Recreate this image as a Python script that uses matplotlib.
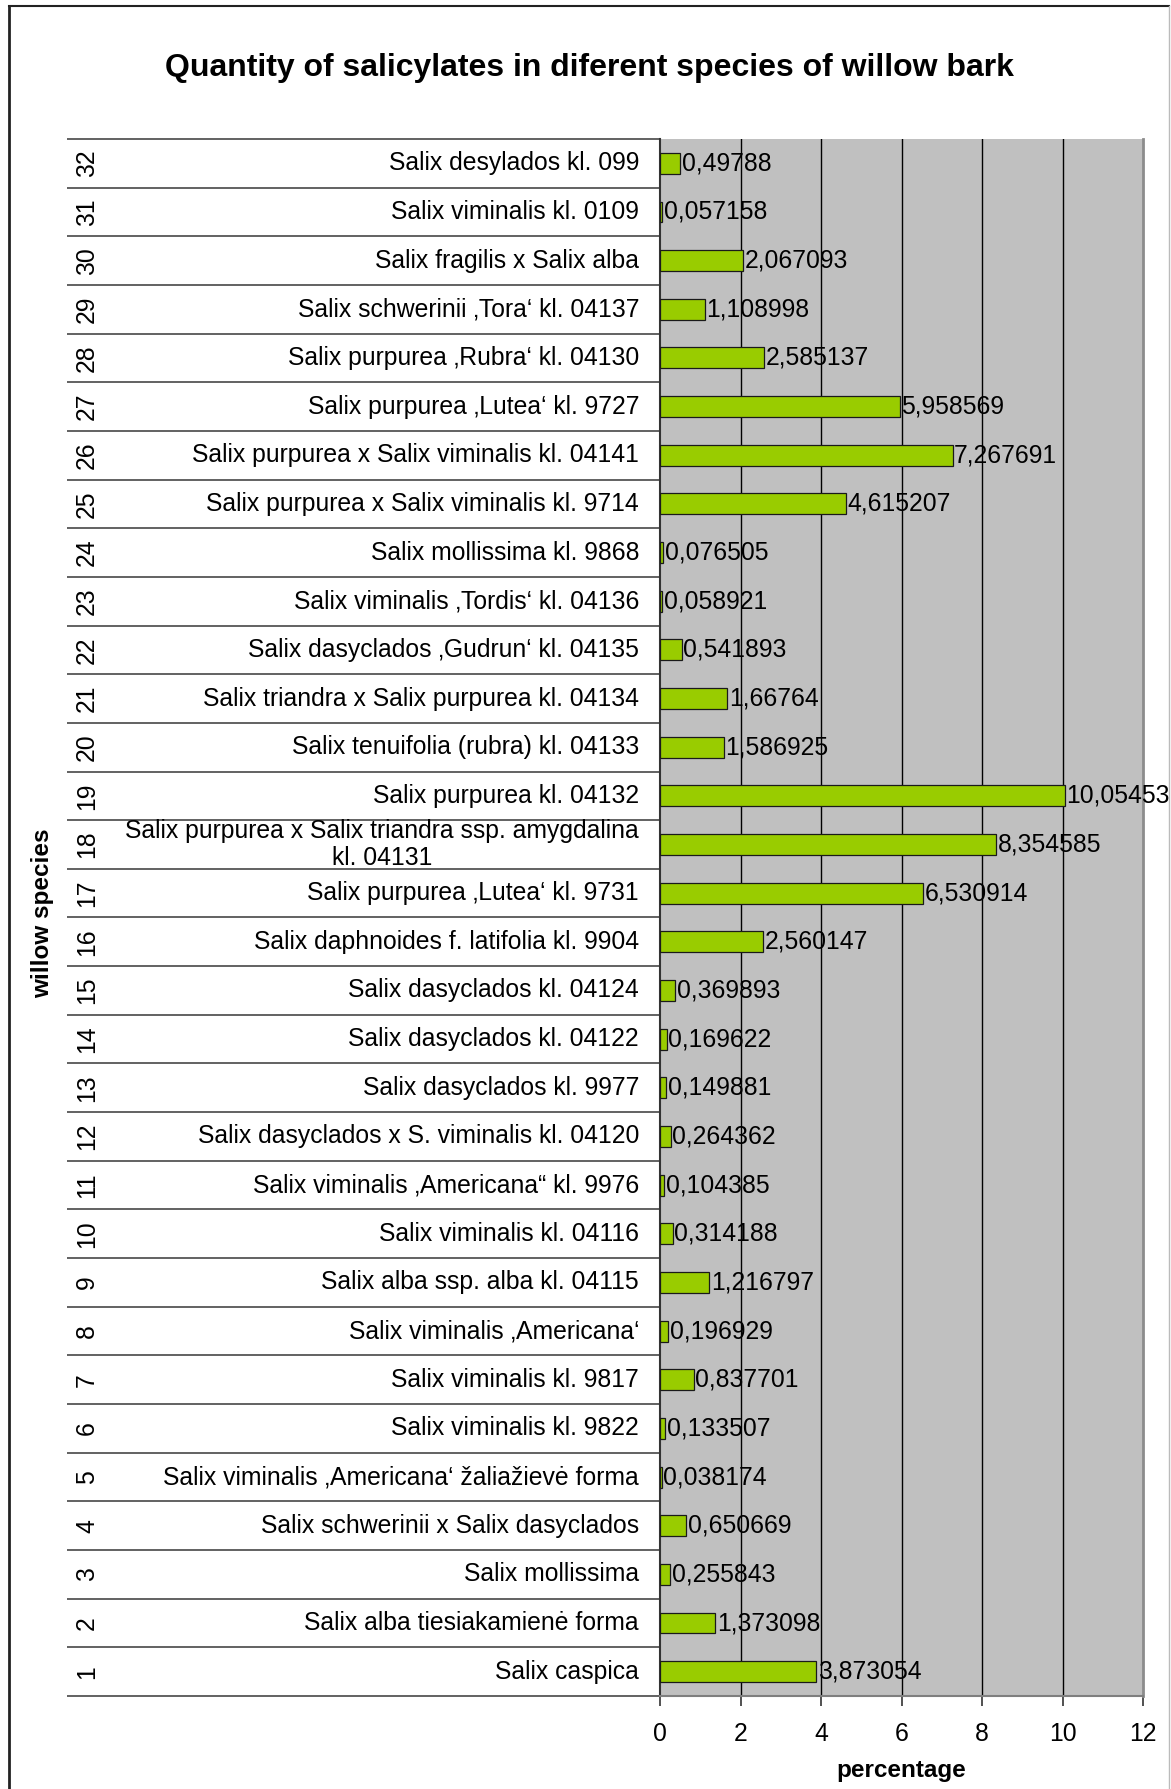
import matplotlib
matplotlib.use('Agg')
import matplotlib.pyplot as plt

plt.rcParams['font.family'] = ['Liberation Sans', 'DejaVu Sans']

# willow clones, numbered 1..32 from the bottom row up
species = [
    'Salix caspica',
    'Salix alba tiesiakamienė forma',
    'Salix mollissima',
    'Salix schwerinii x Salix dasyclados',
    'Salix viminalis \u201aAmericana\u2018 žaliažievė forma',
    'Salix viminalis kl. 9822',
    'Salix viminalis kl. 9817',
    'Salix viminalis \u201aAmericana\u2018',
    'Salix alba ssp. alba kl. 04115',
    'Salix viminalis kl. 04116',
    'Salix viminalis \u201aAmericana\u201c kl. 9976',
    'Salix dasyclados x S. viminalis kl. 04120',
    'Salix dasyclados kl. 9977',
    'Salix dasyclados kl. 04122',
    'Salix dasyclados kl. 04124',
    'Salix daphnoides f. latifolia kl. 9904',
    'Salix purpurea \u201aLutea\u2018 kl. 9731',
    'Salix purpurea x Salix triandra ssp. amygdalina\nkl. 04131',
    'Salix purpurea kl. 04132',
    'Salix tenuifolia (rubra) kl. 04133',
    'Salix triandra x Salix purpurea kl. 04134',
    'Salix dasyclados \u201aGudrun\u2018 kl. 04135',
    'Salix viminalis \u201aTordis\u2018 kl. 04136',
    'Salix mollissima kl. 9868',
    'Salix purpurea x Salix viminalis kl. 9714',
    'Salix purpurea x Salix viminalis kl. 04141',
    'Salix purpurea \u201aLutea\u2018 kl. 9727',
    'Salix purpurea \u201aRubra\u2018 kl. 04130',
    'Salix schwerinii \u201aTora\u2018 kl. 04137',
    'Salix fragilis x Salix alba',
    'Salix viminalis kl. 0109',
    'Salix desylados kl. 099',
]
numbers = list(range(1, 33))
salicylates = [
    3.873054, 1.373098, 0.255843, 0.650669, 0.038174, 0.133507, 0.837701,
    0.196929, 1.216797, 0.314188, 0.104385, 0.264362, 0.149881, 0.169622,
    0.369893, 2.560147, 6.530914, 8.354585, 10.05453, 1.586925, 1.66764,
    0.541893, 0.058921, 0.076505, 4.615207, 7.267691, 5.958569, 2.585137,
    1.108998, 2.067093, 0.057158, 0.49788,
]
xticks = [0, 2, 4, 6, 8, 10, 12]

W, H = 1171, 1789
fs = 17.8
fig = plt.figure(figsize=(W / 100, H / 100), dpi=100)

# outer frame
fig.add_artist(plt.Line2D([9 / W, 9 / W], [0, 1 - 6 / H], color='#222222', lw=2))
fig.add_artist(plt.Line2D([9 / W, 1169 / W], [1 - 6 / H, 1 - 6 / H], color='#222222', lw=1.5))
fig.add_artist(plt.Line2D([1169 / W, 1169 / W], [0, 1 - 6 / H], color='#bbbbbb', lw=1))

left, right, top, bottom = 660, 1143, 139, 1696
ax = fig.add_axes([left / W, 1 - bottom / H, (right - left) / W, (bottom - top) / H])
ax.set_facecolor('#C0C0C0')

ax.barh(numbers, salicylates, height=0.43, color='#99CC00', edgecolor='#1a1a1a', lw=0.9, zorder=3)
ax.set_xlim(0, 12)
ax.set_ylim(0.5, 32.5)

for g in xticks[1:-1]:
    ax.axvline(g, color='black', lw=1.0, zorder=1)

ax.spines['top'].set_visible(False)
ax.spines['left'].set_color('#333333')
ax.spines['left'].set_linewidth(1.5)
ax.spines['bottom'].set_color('#7f7f7f')
ax.spines['bottom'].set_linewidth(1.5)
ax.spines['right'].set_color('#8c8c8c')
ax.spines['right'].set_linewidth(2)

ax.set_xticks(xticks)
ax.set_xticklabels([str(t) for t in xticks], fontsize=fs)
ax.tick_params(axis='x', direction='out', length=7, width=1.2, color='#333333', pad=12)
ax.set_yticks([])

# value labels with decimal commas
for n, v in zip(numbers, salicylates):
    ax.annotate(str(v).replace('.', ','), (v, n), xytext=(1.2, 0), textcoords='offset points',
                ha='left', va='center', fontsize=fs, zorder=4, annotation_clip=False)

# category column: separators, row numbers and species names
ytrans = ax.get_yaxis_transform()
px = lambda x: (x - left) / (right - left)
seps = [n - 0.5 for n in numbers] + [32.5]
ax.hlines(seps, px(67), 0, transform=ytrans, colors='#555555', lw=1.3, clip_on=False)
for n, name in zip(numbers, species):
    ax.text(px(87), n, str(n), transform=ytrans, rotation=90, ha='center', va='center',
            fontsize=fs)
    ax.text(px(639), n, name, transform=ytrans, ha='right', va='center',
            multialignment='center', fontsize=fs, linespacing=1.2)

fig.text(589 / W, 1 - 68 / H, 'Quantity of salicylates in diferent species of willow bark',
         ha='center', va='center', fontsize=23, fontweight='bold')
fig.text(43 / W, 1 - 913 / H, 'willow species', rotation=90, ha='center', va='center',
         fontsize=17.5, fontweight='bold')
fig.text(901 / W, 1 - 1771 / H, 'percentage', ha='center', va='center',
         fontsize=17.5, fontweight='bold')

fig.savefig('out.png', dpi=100)
